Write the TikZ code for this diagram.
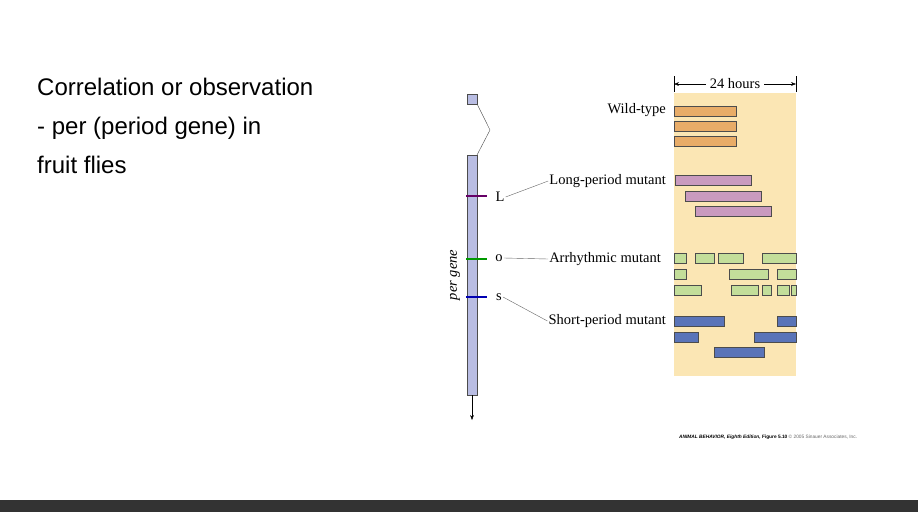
\documentclass[tikz,border=0pt]{standalone}
\usepackage{fontspec}
\setmainfont{Liberation Serif}
\newfontfamily\sansf{Liberation Sans}
\usetikzlibrary{arrows.meta}
\definecolor{bgy}{HTML}{FBE6B4}
\definecolor{wt}{HTML}{E8AC68}
\definecolor{lp}{HTML}{C99ABF}
\definecolor{ar}{HTML}{C3DE9A}
\definecolor{sp}{HTML}{5A74B8}
\definecolor{gene}{HTML}{B9BDE3}
\begin{document}
\begin{tikzpicture}[x=1pt,y=-1pt,
  bar/.style={draw=black!70,line width=0.8pt},
  lab/.style={font=\fontsize{14.5}{16}\selectfont,anchor=east,inner sep=1pt},
  mk/.style={font=\fontsize{14.5}{16}\selectfont,inner sep=1pt}]
\useasboundingbox (0,0) rectangle (918,512);
\fill[white] (0,0) rectangle (918,512);
\fill[black!80] (0,500) rectangle (918,512);
\node[anchor=north west,align=left,font=\sansf\fontsize{24}{39}\selectfont,inner sep=0] (t) at (37,78)
 {Correlation or observation\\- per (period gene) in\\fruit flies};
% background
\fill[bgy] (674,93) rectangle (796,376);
\coordinate (h1) at (674,84); \coordinate (h2) at (796,84);
\draw (674,76) -- (674,92); \draw (796,76) -- (796,92);
\node[mk,fill=white,inner sep=4pt] (hrs) at (735,84) {24 hours};
\draw[-{Stealth[length=5pt]}] (hrs.west) -- (h1);
\draw[-{Stealth[length=5pt]}] (hrs.east) -- (h2);
% gene
\node[draw=black!70,fill=gene,minimum width=10,minimum height=10,inner sep=0] (sq) at (472,99) {};
\coordinate (k) at (490,130);
\draw[fill=gene,draw=black!70] (467,155) rectangle (477,395);
\draw[black!70] (sq.south east) -- (k) -- (477,155);
\coordinate (gb) at (472,395); \coordinate (ge) at (472,420);
\draw[-{Stealth[length=5pt]}] (gb) -- (ge);
\node[rotate=90,font=\itshape\fontsize{14.5}{16}\selectfont] (pg) at (455,275) {per gene};
\draw[violet!80!black,line width=1.2pt] (466,196) -- (487,196);
\draw[green!60!black,line width=1.2pt] (466,259) -- (487,259);
\draw[blue!70!black,line width=1.2pt] (466,297) -- (487,297);
\node[mk] (L) at (500,197) {L};
\node[mk] (o) at (499,258) {o};
\node[mk] (s) at (499,297) {s};
\node[lab] (wtl) at (667,110) {Wild-type};
\node[lab] (lpl) at (667,181) {Long-period mutant};
\node[lab] (arl) at (662,259) {Arrhythmic mutant};
\node[lab] (spl) at (667,321) {Short-period mutant};
\draw[black!60] (L.east) -- (lpl.west);
\draw[black!60] (o.east) -- (arl.west);
\draw[black!60] (s.east) -- (spl.west);
% bars
\foreach \a/\b/\c/\d in {674/106/736/116,674/121/736/131,674/136/736/146}
  \draw[bar,fill=wt] (\a,\b) rectangle (\c,\d);
\foreach \a/\b/\c/\d in {675/175/751/185,685/191/761/201,695/206/771/216}
  \draw[bar,fill=lp] (\a,\b) rectangle (\c,\d);
\foreach \a/\b/\c/\d in {674/253/686/263,695/253/714/263,718/253/743/263,762/253/796/263,
  674/269/686/279,729/269/768/279,777/269/796/279,
  674/285/701/295,731/285/758/295,762/285/771/295,777/285/789/295,791/285/796/295}
  \draw[bar,fill=ar] (\a,\b) rectangle (\c,\d);
\foreach \a/\b/\c/\d in {674/316/724/326,777/316/796/326,674/332/698/342,754/332/796/342,714/347/764/357}
  \draw[bar,fill=sp] (\a,\b) rectangle (\c,\d);
\node[anchor=west,inner sep=0,font=\sansf\fontsize{4.8}{5}\selectfont] (cap) at (679,437)
 {\textbf{\textit{ANIMAL BEHAVIOR, Eighth Edition,} Figure 5.10} \textcolor{black!60}{\textcopyright{} 2005 Sinauer Associates, Inc.}};
\end{tikzpicture}
\end{document}
